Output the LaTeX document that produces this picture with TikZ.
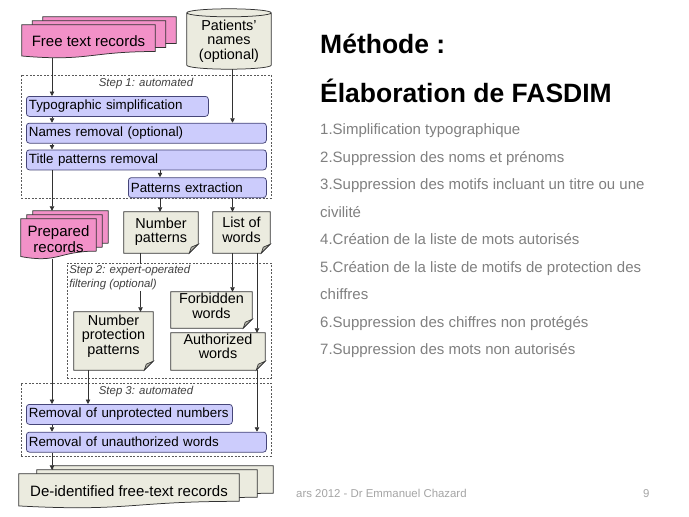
\documentclass[tikz,border=0pt]{standalone}
\usepackage{fontspec}
\setmainfont{Liberation Sans}
\usetikzlibrary{arrows.meta,positioning,calc}
\pgfdeclarelayer{back}
\pgfsetlayers{back,main}

\definecolor{recpink}{RGB}{242,145,200}
\definecolor{procfill}{RGB}{204,204,252}
\definecolor{procline}{RGB}{70,70,120}
\definecolor{notefill}{RGB}{235,235,223}
\definecolor{inkline}{RGB}{50,50,50}
\definecolor{listgray}{RGB}{128,128,128}
\definecolor{footgray}{RGB}{165,165,165}

% text block moved up by #1, size unchanged
\newcommand{\lift}[2]{\raisebox{#1}[\height][\depth]{\begin{tabular}{@{}c@{}}#2\end{tabular}}}
% sheet with wavy bottom, shifted by (#2,#3)
\newcommand{\docsheet}[4]{%
  \path[draw=inkline, line width=0.75pt, fill=#4]
    let \p1=(#1.north west), \p2=(#1.south east) in
    ({\x1+#2},{\y1+#3}) -- ({\x2+#2},{\y1+#3}) -- ({\x2+#2},{\y1+#3-0.8*(\y1-\y2)})
    .. controls ({(\x1+\x2)/2+#2},{\y1+#3-0.8*(\y1-\y2)})
            and ({(\x1+\x2)/2+#2},{\y1+#3-1.107*(\y1-\y2)})
    .. ({\x1+#2},{\y1+#3-0.934*(\y1-\y2)}) -- cycle;}
% note with folded corner
\newcommand{\notesheet}[1]{%
  \path[draw=inkline, line width=0.75pt, fill=notefill]
    let \p1=(#1.north west), \p2=(#1.south east) in
    (\x1,\y1) -- (\x2,\y1) -- (\x2,\y2+9pt) -- (\x2-9pt,\y2) -- (\x1,\y2) -- cycle;
  \path[draw=inkline, line width=0.6pt, fill=notefill!75!black]
    let \p2=(#1.south east) in
    (\x2,\y2+9pt) -- (\x2-7pt,\y2+6pt) -- (\x2-9pt,\y2) -- cycle;}
% drum for the names list
\newcommand{\drum}[1]{%
  \path[draw=inkline, line width=0.75pt, fill=notefill]
    let \p1=(#1.north west), \p2=(#1.south east) in
    (\x1,\y1-4pt) -- (\x1,\y2+4pt)
    arc[start angle=180, end angle=360, x radius={(\x2-\x1)/2}, y radius=4pt]
    -- (\x2,\y1-4pt)
    arc[start angle=0, end angle=180, x radius={(\x2-\x1)/2}, y radius=4pt] -- cycle
    ({(\x1+\x2)/2},\y1-4pt) ellipse [x radius={(\x2-\x1)/2}, y radius=4pt];}

\begin{document}
\begin{tikzpicture}[x=1pt, y=-1pt,
    font=\fontsize{14.4}{14.2}\selectfont,
    doc/.style={inner sep=0pt, align=center, font=\fontsize{15}{15.5}\selectfont},
    note/.style={inner sep=0pt, align=center},
    proc/.style={draw=procline, fill=procfill, line width=0.75pt, rounded corners=3pt,
                 minimum height=20pt, inner xsep=2.5pt, inner ysep=0pt, anchor=north west,
                 align=left, font=\fontsize{13.35}{13.35}\selectfont},
    stage/.style={draw=black!65, dash pattern=on 2pt off 1.5pt, line width=0.7pt,
                  inner sep=0pt},
    lab/.style={font=\fontsize{11.4}{14.3}\selectfont\itshape, text=black!75, inner sep=1pt},
    arrow/.style={-{Triangle[length=4.5pt,width=4.5pt]}, draw=inkline, line width=0.75pt},
    heading/.style={anchor=base west, inner sep=0pt, font=\fontsize{26.5}{26.5}\selectfont\bfseries},
    item/.style={anchor=base west, inner sep=0pt, text=listgray,
                 font=\fontsize{15}{15}\selectfont},
    foot/.style={anchor=base west, inner sep=0pt, text=footgray,
                 font=\fontsize{11.4}{11.4}\selectfont}
  ]
  \useasboundingbox (0,0) rectangle (689,517);
  % inputs
  \node[doc, minimum width=133pt, minimum height=33pt] (free) at (88.5,41.5) {Free text records};
  \node[note, minimum width=84pt, minimum height=60pt] (pnames) at (229,39) {\lift{-3pt}{Patients'\\names\\(optional)}};
  % step 1
  \node[stage, minimum width=250pt, minimum height=123pt] (step1) at (146,136.5) {};
  \node[lab, below=2pt of step1.north] (lab1) {Step 1: automated};
  \node[proc, text width=177pt] (typo) at (26,96) {Typographic simplification};
  \node[proc, text width=235pt, below=6pt of typo.south west, anchor=north west] (names) {Names removal (optional)};
  \node[proc, text width=235pt, below=6pt of names.south west, anchor=north west] (title) {Title patterns removal};
  \node[proc, text width=133pt, below=7pt of title.south east, anchor=north east] (pext) {Patterns extraction};
  % intermediate results
  \node[doc, minimum width=75pt, minimum height=40pt] (prep) at (58.5,239) {Prepared\\records};
  \node[note, minimum width=74pt, minimum height=41pt] (numpat) at (161,232.5) {\lift{0pt}{Number\\patterns}};
  \node[note, minimum width=57pt, minimum height=41pt] (words) at (241.5,232.5) {\lift{0.5pt}{List of\\words}};
  % step 2
  \node[stage, minimum width=204pt, minimum height=115pt] (step2) at (169,320.5) {};
  \node[note, minimum width=81pt, minimum height=36pt] (forbid) at (211.5,310) {\lift{2pt}{Forbidden\\words}};
  \node[note, minimum width=94pt, minimum height=37pt] (auth) at (218,351.5) {\lift{3pt}{Authorized\\words}};
  \node[note, minimum width=79pt, minimum height=58pt] (protect) at (113.5,341) {\lift{4.5pt}{Number\\protection\\patterns}};
  % step 3
  \node[stage, minimum width=250pt, minimum height=73pt] (step3) at (146,419.5) {};
  \node[lab, below=2pt of step3.north] (lab3) {Step 3: automated};
  \node[proc, text width=201pt] (unprot) at (26,404) {Removal of unprotected numbers};
  \node[proc, text width=235pt, below=7pt of unprot.south west, anchor=north west] (unauth) {Removal of unauthorized words};
  % output
  \node[doc, minimum width=220pt, minimum height=34pt] (deid) at (129,491) {De-identified free-text records};

  \begin{pgfonlayer}{back}
    \fill[white] (0,0) rectangle (689,517);
    \docsheet{free}{21pt}{8pt}{recpink}
    \docsheet{free}{10.5pt}{4pt}{recpink}
    \docsheet{free}{0pt}{0pt}{recpink}
    \docsheet{prep}{12pt}{8pt}{recpink}
    \docsheet{prep}{6pt}{4pt}{recpink}
    \docsheet{prep}{0pt}{0pt}{recpink}
    \docsheet{deid}{34pt}{8pt}{notefill}
    \docsheet{deid}{18pt}{4pt}{notefill}
    \docsheet{deid}{0pt}{0pt}{notefill}
    \drum{pnames}
    \notesheet{numpat}
    \notesheet{words}
    \notesheet{forbid}
    \notesheet{auth}
    \notesheet{protect}
  \end{pgfonlayer}

  % lanes of the vertical connectors
  \coordinate (laneA) at (52,0);
  \coordinate (laneB) at (160,0);
  \coordinate (laneC) at (232.5,0);
  \coordinate (laneD) at (140.5,0);
  \coordinate (laneE) at (257,0);
  \coordinate (laneF) at (88,0);

  \draw[arrow] (free.south -| laneA) -- (typo.north -| laneA);
  \draw[arrow] (pnames.south -| laneC) -- (names.north -| laneC);
  \draw[arrow] (typo.south -| laneA) -- (names.north -| laneA);
  \draw[arrow] (names.south -| laneA) -- (title.north -| laneA);
  \draw[arrow] (title.south -| laneB) -- (pext.north -| laneB);
  \draw[arrow] (title.south -| laneA) -- ($(prep.north -| laneA)+(0,-8)$);
  \draw[arrow] (pext.south -| laneB) -- (numpat.north -| laneB);
  \draw[arrow] (pext.south -| laneC) -- (words.north -| laneC);
  \draw[arrow] (numpat.south -| laneD) -- (protect.north -| laneD);
  \draw[arrow] (words.south -| laneC) -- (forbid.north -| laneC);
  \draw[arrow] (words.south -| laneE) -- (auth.north -| laneE);
  \draw[arrow] (prep.south -| laneA) -- (unprot.north -| laneA);
  \draw[arrow] (protect.south -| laneF) -- (unprot.north -| laneF);
  \draw[arrow] (auth.south -| laneE) -- (unauth.north -| laneE);
  \draw[arrow] (unprot.south -| laneA) -- (unauth.north -| laneA);
  \draw[arrow] (unauth.south -| laneA) -- ($(deid.north -| laneA)+(0,-4)$);
  % label of step 2 hides the line behind it
  \node[lab, fill=white, align=left, below right=1.5pt and 1.5pt of step2.north west] (lab2) {Step 2: expert-operated\\filtering (optional)};

  % slide text
  \node[heading] (meth) at (320,53) {Méthode :};
  \node[heading] (elab) at (320,102) {Élaboration de FASDIM};
  \foreach \txt [count=\i from 0] in {1.Simplification typographique,
      2.Suppression des noms et prénoms,
      3.Suppression des motifs incluant un titre ou une,
      civilité,
      4.Création de la liste de mots autorisés,
      5.Création de la liste de motifs de protection des,
      chiffres,
      6.Suppression des chiffres non protégés,
      7.Suppression des mots non autorisés}
    \node[item] (item\i) at (320,{134.5+27.5*\i}) {\txt};
  \node[foot] (foot) at (296,497) {ars 2012 - Dr Emmanuel Chazard};
  \node[foot] (page) at (643,497) {9};
\end{tikzpicture}
\end{document}
